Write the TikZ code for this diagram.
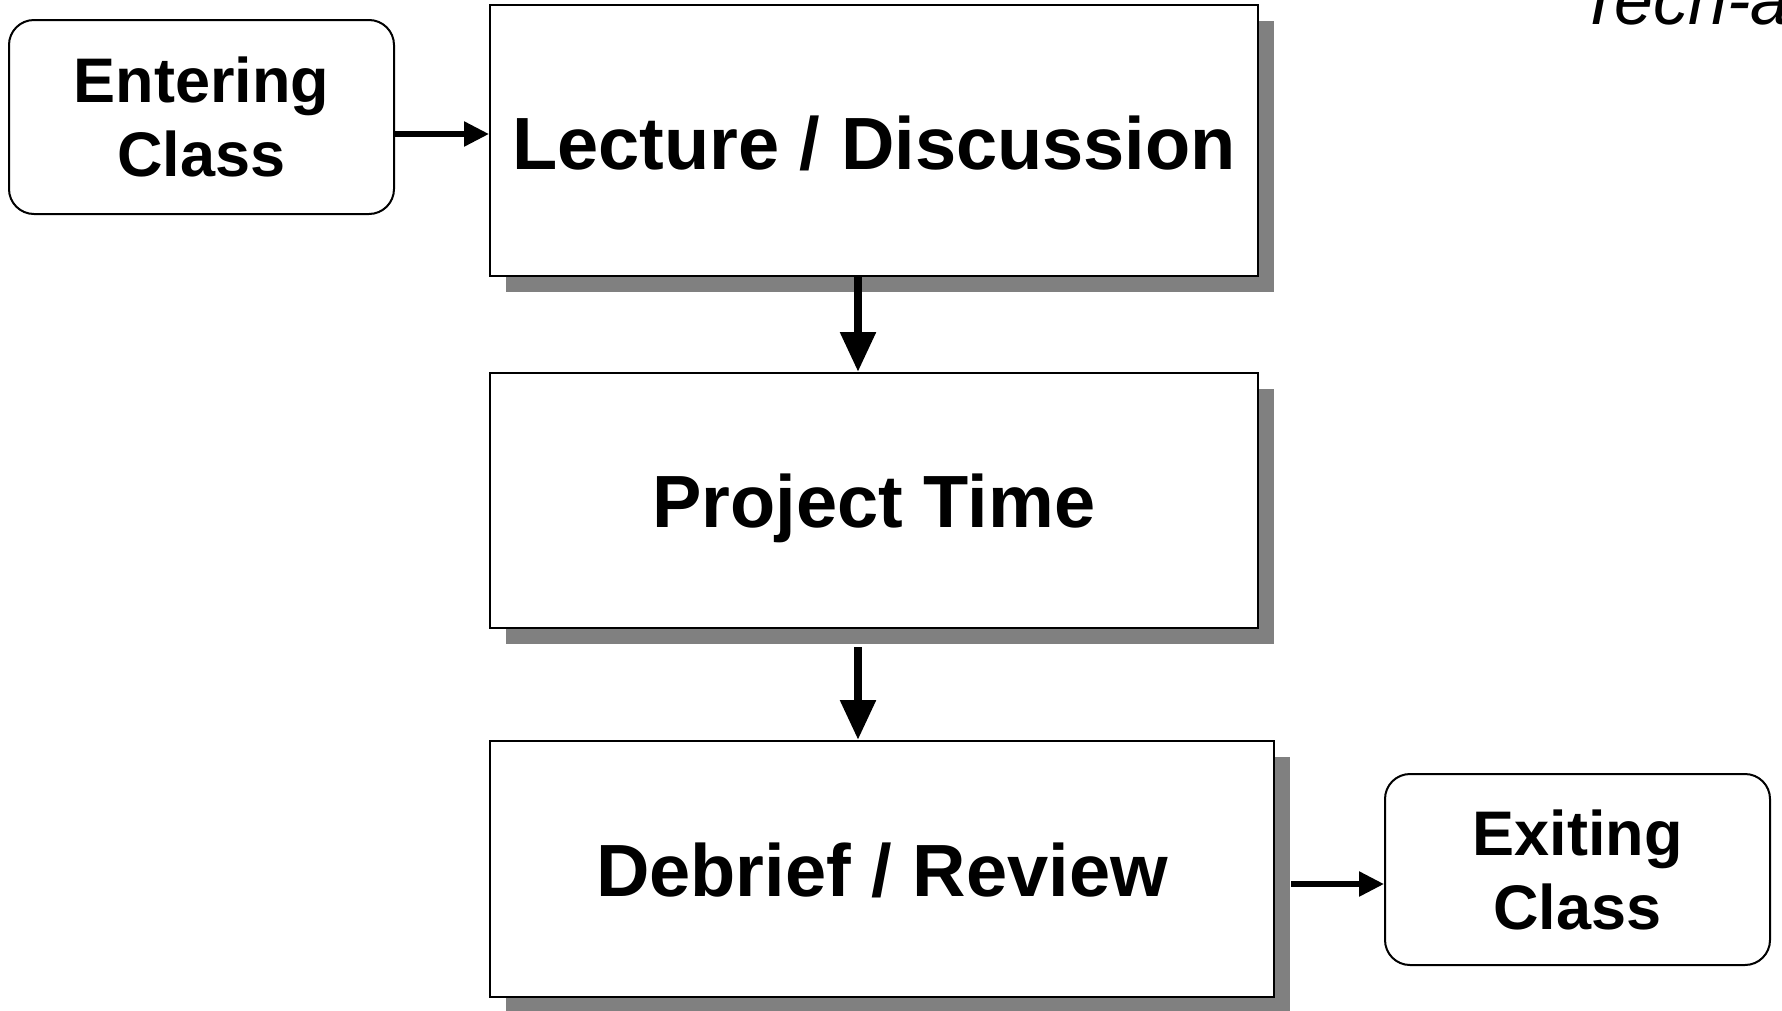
\documentclass[tikz,border=0pt]{standalone}
\usepackage{fontspec}
\setmainfont{Liberation Sans}
\usetikzlibrary{arrows.meta,shadows}
\definecolor{shgray}{RGB}{128,128,128}
\begin{document}
\begin{tikzpicture}[x=1pt,y=-1pt,
  bigbox/.style={draw=black, line width=2pt, fill=white, rectangle, inner sep=0pt,
    align=center, font=\fontsize{74}{86}\selectfont\bfseries, text depth=0pt,
    drop shadow={shadow xshift=16pt, shadow yshift=-16pt, fill=shgray, draw=none, opacity=1}},
  endbox/.style={draw=black, line width=2pt, fill=white, rectangle, rounded corners=25pt,
    inner sep=0pt, align=center, font=\fontsize{63}{74}\selectfont\bfseries,
    minimum width=385pt},
  varrow/.style={line width=8.5pt, -{Triangle[width=34pt,length=40pt]}},
  harrow/.style={line width=5.5pt, -{Triangle[width=24pt,length=25pt]}}
]
\useasboundingbox (0,0) rectangle (1782,1010);
\clip (0,0) rectangle (1782,1010);

\node[endbox, minimum height=194pt] (ent) at (201.5,117) {Entering\\Class};
\node[bigbox, minimum width=768pt, minimum height=271pt] (lec) at (874,140.5) {\raisebox{-4pt}{Lecture / Discussion}};
\node[bigbox, minimum width=768pt, minimum height=255pt] (proj) at (874,500.5) {Project Time};
\node[bigbox, minimum width=784pt, minimum height=256pt] (deb) at (882,869) {\raisebox{-2pt}{Debrief / Review}};
\node[endbox, minimum height=191pt] (ext) at (1577.5,869.5) {Exiting\\Class};

\node[anchor=base west, inner sep=0pt, font=\fontsize{70}{80}\selectfont\itshape] (tech) at (1578,24) {Tech-a};

\coordinate (ax) at (858,0);
\coordinate (ay1) at (0,134);
\coordinate (ay4) at (0,884);
\coordinate (p2) at ([yshift=-18pt]proj.south);
\coordinate (ds) at ([xshift=16pt]deb.east);

\draw[harrow] (ent.east |- ay1) -- (lec.west |- ay1);
\draw[varrow] (lec.south -| ax) -- (proj.north -| ax);
\draw[varrow] (p2 -| ax) -- (deb.north -| ax);
\draw[harrow] (ds |- ay4) -- (ext.west |- ay4);
\end{tikzpicture}
\end{document}
